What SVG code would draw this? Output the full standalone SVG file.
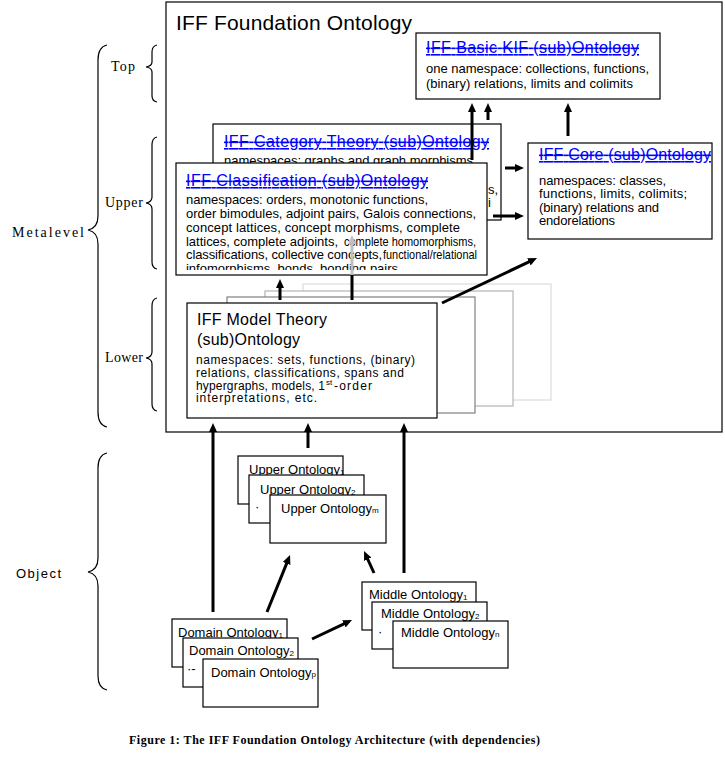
<svg xmlns="http://www.w3.org/2000/svg" width="725" height="768" viewBox="0 0 725 768">
<style>
.box{fill:#fff;stroke:#000;stroke-width:1.2}
.sans{font-family:"Liberation Sans",Arial,sans-serif;fill:#000}
.serif{font-family:"Liberation Serif","Times New Roman",serif;fill:#000}
.ttl{font-family:"Liberation Sans",Arial,sans-serif;font-size:16px;fill:#0000ff;text-decoration:underline line-through}
.body{font-size:13px}
.mb{font-size:12px}
.sm{font-size:13px}
.sub{font-size:8px}
.brace{fill:none;stroke:#000;stroke-width:1.2}
.arr{stroke:#000;stroke-width:3;fill:none}
</style>
<defs>
<marker id="ah" viewBox="0 0 9 8" refX="3" refY="4" markerWidth="9" markerHeight="8" markerUnits="userSpaceOnUse" orient="auto" preserveAspectRatio="none"><path d="M0,0 L9,4 L0,8 z" fill="#000"/></marker>
<marker id="ahg" viewBox="0 0 9 8" refX="3" refY="4" markerWidth="9" markerHeight="8" markerUnits="userSpaceOnUse" orient="auto" preserveAspectRatio="none"><path d="M0,0 L9,4 L0,8 z" fill="#c0c0c0"/></marker>
<clipPath id="clsclip"><rect x="176" y="163" width="311" height="107"/></clipPath>
</defs>
<rect width="725" height="768" fill="#fff"/>

<g id="levels">
<path class="brace" d="M107,45 Q98,47 98,60 L98,216 Q98,228 88,230 Q98,232 98,244 L98,412 Q98,425 107,427"/>
<text class="serif" x="12" y="237" font-size="14" textLength="72" lengthAdjust="spacing">Metalevel</text>
<path class="brace" d="M157,45 Q152,46 152,52 L152,62 Q152,66 146,67 Q152,68 152,72 L152,96 Q152,101 157,102"/>
<text class="serif" x="111" y="71" font-size="14" textLength="24" lengthAdjust="spacing">Top</text>
<path class="brace" d="M157,137 Q152,138 152,145 L152,197 Q152,202 146,203 Q152,204 152,209 L152,262 Q152,268 157,269"/>
<text class="serif" x="105" y="207" font-size="14" textLength="38" lengthAdjust="spacing">Upper</text>
<path class="brace" d="M157,298 Q152,299 152,306 L152,352 Q152,357 146,358 Q152,359 152,364 L152,404 Q152,410 157,411"/>
<text class="serif" x="105" y="362" font-size="14" textLength="38" lengthAdjust="spacing">Lower</text>
<path class="brace" d="M107,453 Q98,455 98,468 L98,558 Q98,570 88,572 Q98,574 98,586 L98,676 Q98,688 107,690"/>
<text class="sans" x="16" y="578" font-size="13" textLength="45" lengthAdjust="spacing">Object</text>
</g>

<g id="foundation">
<rect class="box" x="166" y="2" width="556" height="430"/>
<text class="sans" x="176" y="30" font-size="21" textLength="236" lengthAdjust="spacing">IFF Foundation Ontology</text>
</g>

<g id="kif">
<rect class="box" x="416" y="33" width="244" height="66"/>
<text class="ttl" x="426" y="53" textLength="213" lengthAdjust="spacing">IFF Basic KIF (sub)Ontology</text>
<text class="sans body" x="426" y="73" textLength="223" lengthAdjust="spacing">one namespace: collections, functions,</text>
<text class="sans body" x="426" y="88" textLength="207" lengthAdjust="spacing">(binary) relations, limits and colimits</text>
</g>

<g id="category">
<rect class="box" x="213" y="124" width="288" height="96"/>
<text class="ttl" x="224" y="147" textLength="265" lengthAdjust="spacing">IFF Category Theory (sub)Ontology</text>
<text class="sans body" x="224" y="165" textLength="249" lengthAdjust="spacing">namespaces: graphs and graph morphisms</text>
<text class="sans body" x="488" y="194">s,</text>
<text class="sans body" x="488" y="207">i</text>
</g>

<g id="core">
<rect class="box" x="528" y="143" width="184" height="96"/>
<text class="ttl" x="539" y="160" textLength="172" lengthAdjust="spacing">IFF Core (sub)Ontology</text>
<text class="sans body" x="539" y="185" textLength="127" lengthAdjust="spacing">namespaces: classes,</text>
<text class="sans body" x="539" y="198" textLength="148" lengthAdjust="spacing">functions, limits, colimits;</text>
<text class="sans body" x="539" y="212" textLength="120" lengthAdjust="spacing">(binary) relations and</text>
<text class="sans body" x="539" y="225" textLength="76" lengthAdjust="spacing">endorelations</text>
</g>

<g id="classification">
<rect class="box" x="176" y="163" width="311" height="112"/>
<text class="ttl" x="186" y="186" textLength="242" lengthAdjust="spacing">IFF Classification (sub)Ontology</text>
<g clip-path="url(#clsclip)">
<text class="sans body" x="186" y="204" textLength="242" lengthAdjust="spacing">namespaces: orders, monotonic functions,</text>
<text class="sans body" x="186" y="218" textLength="290" lengthAdjust="spacing">order bimodules, adjoint pairs, Galois connections,</text>
<text class="sans body" x="186" y="232" textLength="274" lengthAdjust="spacing">concept lattices, concept morphisms, complete</text>
<text class="sans body" x="186" y="246" textLength="152" lengthAdjust="spacing">lattices, complete adjoints,</text>
<text class="sans body" x="344" y="246" textLength="132" lengthAdjust="spacingAndGlyphs">complete homomorphisms,</text>
<text class="sans body" x="186" y="259" textLength="196" lengthAdjust="spacing">classifications, collective concepts,</text>
<text class="sans body" x="383" y="259" textLength="94" lengthAdjust="spacingAndGlyphs">functional/relational</text>
<text class="sans body" x="186" y="273" textLength="212" lengthAdjust="spacing">infomorphisms, bonds, bonding pairs</text>
</g>
</g>

<g id="model">
<rect x="303" y="284" width="248" height="116" fill="#fff" stroke="#dcdcdc" stroke-width="1.2"/>
<rect x="265" y="291" width="248" height="115" fill="#fff" stroke="#b4b4b4" stroke-width="1.2"/>
<rect x="227" y="297" width="248" height="116" fill="#fff" stroke="#808080" stroke-width="1.2"/>
<rect class="box" x="187" y="303" width="250" height="115"/>
<text class="sans" x="197" y="325" font-size="16" textLength="130" lengthAdjust="spacing">IFF Model Theory</text>
<text class="sans" x="197" y="345" font-size="16" textLength="103" lengthAdjust="spacing">(sub)Ontology</text>
<text class="sans mb" x="196" y="364" textLength="219" lengthAdjust="spacing">namespaces: sets, functions, (binary)</text>
<text class="sans mb" x="196" y="377" textLength="208" lengthAdjust="spacing">relations, classifications, spans and</text>
<text class="sans mb" x="196" y="390" textLength="129" lengthAdjust="spacing">hypergraphs, models, 1</text>
<text class="sans" x="326" y="385" font-size="8">st</text>
<text class="sans mb" x="334" y="390" textLength="38" lengthAdjust="spacing">-order</text>
<text class="sans mb" x="196" y="402" textLength="121" lengthAdjust="spacing">interpretations, etc.</text>
</g>

<g id="upper-ontologies">
<rect class="box" x="238" y="456" width="105" height="48"/>
<text class="sans sm" x="249" y="474">Upper Ontology<tspan class="sub" dy="1">1</tspan></text>
<rect class="box" x="249" y="475" width="115" height="48"/>
<text class="sans sm" x="260" y="494">Upper Ontology<tspan class="sub" dy="1">2</tspan></text>
<text class="sans sm" x="255" y="511">·</text>
<rect class="box" x="270" y="495" width="116" height="48"/>
<text class="sans sm" x="281" y="513">Upper Ontology<tspan class="sub" dy="0">m</tspan></text>
</g>

<g id="middle-ontologies">
<rect class="box" x="362" y="582" width="114" height="48"/>
<text class="sans sm" x="369" y="599">Middle Ontology<tspan class="sub" dy="1">1</tspan></text>
<rect class="box" x="372" y="602" width="115" height="47"/>
<text class="sans sm" x="381" y="618">Middle Ontology<tspan class="sub" dy="1">2</tspan></text>
<text class="sans sm" x="378" y="636">·</text>
<rect class="box" x="393" y="621" width="115" height="47"/>
<text class="sans sm" x="401" y="637">Middle Ontology<tspan class="sub" dy="0">n</tspan></text>
</g>

<g id="domain-ontologies">
<rect class="box" x="172" y="619" width="115" height="48"/>
<text class="sans sm" x="178" y="637">Domain Ontology<tspan class="sub" dy="1">1</tspan></text>
<rect class="box" x="183" y="638" width="115" height="49"/>
<text class="sans sm" x="189" y="655">Domain Ontology<tspan class="sub" dy="1">2</tspan></text>
<text class="sans sm" x="187" y="673">·-</text>
<rect class="box" x="203" y="659" width="115" height="48"/>
<text class="sans sm" x="211" y="677">Domain Ontology<tspan class="sub" dy="0">p</tspan></text>
</g>

<g id="connectors">
<line class="arr" x1="472" y1="160" x2="472" y2="109" marker-end="url(#ah)"/>
<line class="arr" x1="488" y1="120" x2="488" y2="109" marker-end="url(#ah)"/>
<line class="arr" x1="568" y1="136" x2="568" y2="109" marker-end="url(#ah)"/>
<line class="arr" x1="505" y1="168" x2="518" y2="168" marker-end="url(#ah)"/>
<line class="arr" x1="493" y1="216" x2="518" y2="216" marker-end="url(#ah)"/>
<line class="arr" x1="280" y1="300" x2="280" y2="285" marker-end="url(#ah)"/>
<line class="arr" x1="352" y1="300" x2="352" y2="275"/>
<line x1="352" y1="275" x2="352" y2="241" stroke="#c0c0c0" stroke-width="3" marker-end="url(#ahg)"/>
<line class="arr" x1="442" y1="303" x2="531.6" y2="260.6" marker-end="url(#ah)"/>
<line class="arr" x1="213" y1="612" x2="213" y2="429" marker-end="url(#ah)"/>
<line class="arr" x1="308" y1="448" x2="308" y2="429" marker-end="url(#ah)"/>
<line class="arr" x1="404" y1="573" x2="404" y2="429" marker-end="url(#ah)"/>
<line class="arr" x1="267" y1="612" x2="287.8" y2="560.6" marker-end="url(#ah)"/>
<line class="arr" x1="374" y1="573" x2="366.5" y2="556.5" marker-end="url(#ah)"/>
<line class="arr" x1="312" y1="639" x2="346.6" y2="622.6" marker-end="url(#ah)"/>
</g>

<text id="caption" class="serif" x="129" y="744" font-size="12" font-weight="bold" textLength="411" lengthAdjust="spacing">Figure 1: The IFF Foundation Ontology Architecture (with dependencies)</text>
</svg>
